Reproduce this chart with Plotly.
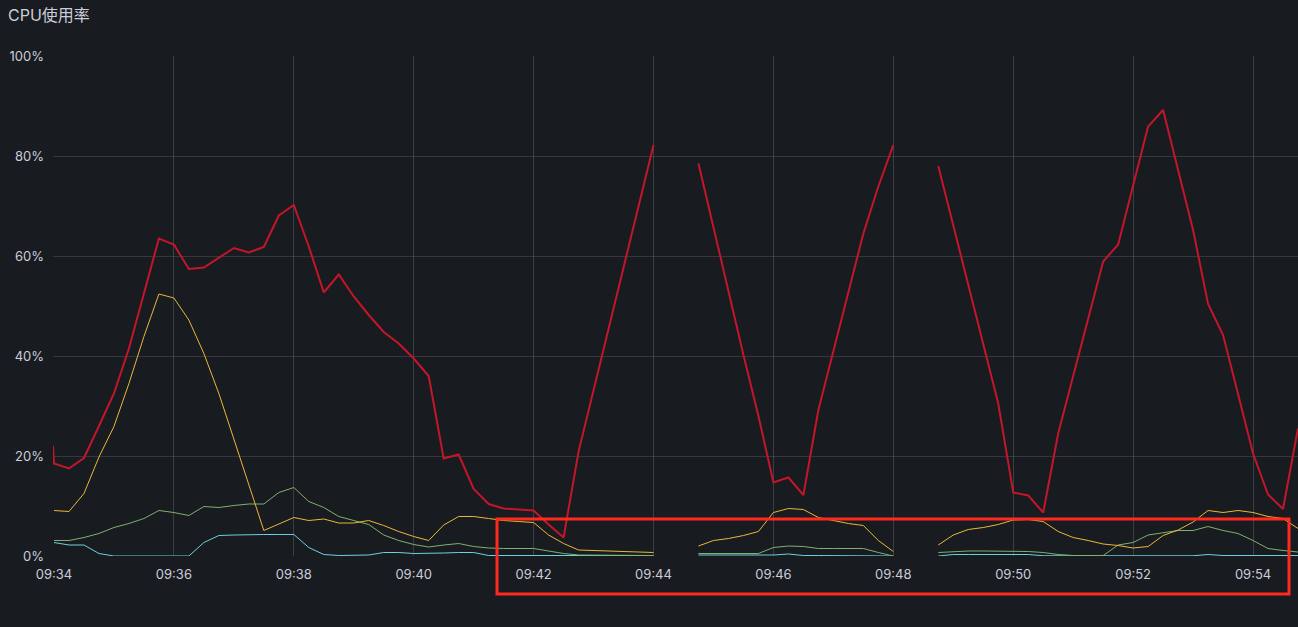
import pandas as pd
import plotly.graph_objects as go

N = None
# 15-second samples starting 09:34:00
start = "2024-01-01 09:34:00"
times = pd.date_range(start, periods=84, freq="15s")

total_first_time = pd.Timestamp("2024-01-01 09:33:59")
total_first_value = 22.0
total = [18.5, 17.5, 19.6, 26, 32.5, 41.5, 52.5, 63.5, 62.3, 57.4,
         57.7, 59.7, 61.6, 60.7, 61.8, 68.1, 70.2, 61.9, 52.7, 56.3,
         51.9, 48.2, 44.8, 42.5, 39.5, 36, 19.5, 20.3, 13.4, 10.4,
         9.5, 9.3, 9.1, 6.3, 3.7, 20.9, 33.2, 45.4, 57.7, 69.9,
         82.2, N, N, 78.5, 65.7, 53.0, 40.2, 28, 14.7, 15.7,
         12.2, 29.2, 41, 52.8, 64.5, 73.9, 82.2, N, N, 78,
         66, 54, 42, 30.5, 12.7, 12.1, 8.7, 24.5, 36, 47.4,
         58.9, 62.3, 74.1, 85.9, 89.2, 77.2, 65.2, 50.4, 44.2, 32.4,
         20.5, 12.3, 9.4, 25.5]

yellow = [9.1, 8.9, 12.5, 19.8, 25.9, 34.5, 43.9, 52.4, 51.6, 47.2,
          40.5, 32.5, 23.4, 14.2, 5.1, 6.4, 7.7, 7.1, 7.4, 6.6,
          6.6, 7.1, 6.1, 4.9, 3.9, 3.1, 6.2, 7.9, 7.9, 7.5,
          7.1, 6.9, 6.7, 4.2, 2.5, 1.2, 1.1, 1.0, 0.95, 0.85,
          0.7, N, N, 2.0, 3.1, 3.5, 4.1, 4.9, 8.7, 9.5,
          9.3, 7.7, 7.1, 6.5, 6.1, 3.1, 0.9, N, N, 2.2,
          4.2, 5.3, 5.7, 6.3, 7.2, 7.3, 6.9, 4.9, 3.7, 3.1,
          2.4, 2.1, 1.6, 1.9, 4.1, 5.2, 6.8, 9.1, 8.7, 9.1,
          8.7, 7.9, 7.5, 5.5]

green = [3.1, 3.1, 3.7, 4.5, 5.7, 6.5, 7.5, 9.1, 8.7, 8.1,
         9.9, 9.7, 10.1, 10.4, 10.4, 12.7, 13.7, 10.9, 9.7, 7.9,
         7.1, 6.3, 4.2, 3.1, 2.3, 1.8, 2.2, 2.5, 1.9, 1.6,
         1.5, 1.5, 1.5, 1.0, 0.5, 0.2, 0.2, 0.2, 0.2, 0.15,
         0.1, N, N, 0.5, 0.5, 0.5, 0.5, 0.5, 1.7, 2.0,
         1.9, 1.5, 1.5, 1.5, 1.5, 0.7, 0.0, N, N, 0.7,
         0.9, 1.0, 1.0, 1.0, 1.0, 0.9, 0.7, 0.3, 0.1, 0.1,
         0.1, 2.2, 2.7, 4.2, 4.7, 5.1, 5.1, 5.9, 5.1, 4.5,
         3.1, 1.5, 1.1, 0.8]

cyan = [2.7, 2.2, 2.2, 0.5, 0, 0, 0, 0, 0, 0,
        2.7, 4.1, 4.2, 4.3, 4.3, 4.3, 4.3, 1.7, 0.3, 0.1,
        0.1, 0.2, 0.7, 0.7, 0.5, 0.5, 0.6, 0.7, 0.7, 0.1,
        0.1, 0.1, 0.1, 0.1, 0.1, 0.1, 0.1, 0.1, 0.1, 0.1,
        0.1, N, N, 0.2, 0.2, 0.2, 0.2, 0.2, 0.2, 0.4,
        0.1, 0.1, 0.1, 0.1, 0.1, 0.1, 0.0, N, N, 0.0,
        0.3, 0.3, 0.3, 0.3, 0.3, 0.3, 0.05, 0.05, 0.05, 0.05,
        0.05, 0.05, 0.05, 0.05, 0.05, 0.05, 0.05, 0.3, 0.1, 0.1,
        0.1, 0.1, 0.1, 0.1]

y_ticks = [0, 20, 40, 60, 80, 100]
x_range = ["2024-01-01 09:33:59", "2024-01-01 09:54:45"]

BG = "#181b1f"
TXT = "#ccccdc"
FONT = "Inter, 'Noto Sans CJK SC', sans-serif"

W, H = 1298, 627
ML, MR, MT, MB = 53, 0, 56, 71
PW, PH = W - ML - MR, H - MT - MB

fig = go.Figure()
fig.add_trace(go.Scatter(x=list(times), y=cyan, mode="lines", name="cyan",
                         line=dict(color="#6ED0E0", width=1), connectgaps=False))
fig.add_trace(go.Scatter(x=list(times), y=green, mode="lines", name="green",
                         line=dict(color="#7EB26D", width=1), connectgaps=False))
fig.add_trace(go.Scatter(x=list(times), y=yellow, mode="lines", name="yellow",
                         line=dict(color="#EAB839", width=1), connectgaps=False))
fig.add_trace(go.Scatter(x=[total_first_time] + list(times), y=[total_first_value] + total,
                         mode="lines", name="总使用率",
                         line=dict(color="#C4162A", width=2), connectgaps=False))

def px_x(p):
    return (p - ML) / PW

def px_y(p):
    return (H - MB - p) / PH

# red highlight box drawn on the screenshot
fig.add_shape(type="rect", xref="paper", yref="paper",
              x0=px_x(497), x1=px_x(1289), y0=px_y(594), y1=px_y(519),
              line=dict(color="#FF2A1F", width=3), fillcolor="rgba(0,0,0,0)")

fig.add_annotation(text="总使用率", xref="paper", yref="paper",
                   x=px_x(46), y=px_y(623), xanchor="left", yanchor="top",
                   showarrow=False, font=dict(family=FONT, size=14, color=TXT))

fig.update_layout(
    width=W, height=H,
    margin=dict(l=ML, r=MR, t=MT, b=MB),
    paper_bgcolor=BG, plot_bgcolor=BG,
    showlegend=False,
    title=dict(text="CPU使用率", x=8 / W, xref="container", xanchor="left",
               y=1 - 15 / H, yref="container", yanchor="middle",
               font=dict(family=FONT, size=16, color=TXT)),
    font=dict(family=FONT, color=TXT, size=13),
)
fig.update_xaxes(range=x_range, type="date", tickformat="%H:%M",
                 dtick=120000, tick0="2024-01-01 09:34:00",
                 showgrid=True, gridcolor="rgba(204,204,220,0.2)", gridwidth=1,
                 zeroline=False, showline=False, ticks="",
                 ticklabelstandoff=9, tickfont=dict(size=13, color=TXT))
fig.update_yaxes(range=[0, 100], tickvals=y_ticks,
                 ticktext=[f"{v}%" for v in y_ticks],
                 showgrid=True, gridcolor="rgba(204,204,220,0.16)", gridwidth=1,
                 zeroline=False, showline=False, ticks="",
                 ticklabelstandoff=8, tickfont=dict(size=13, color=TXT))

fig.write_html("out.html", config={"displayModeBar": False},
               post_script="document.body.style.margin='0';document.body.style.overflow='hidden';document.body.style.background='#181b1f';")
